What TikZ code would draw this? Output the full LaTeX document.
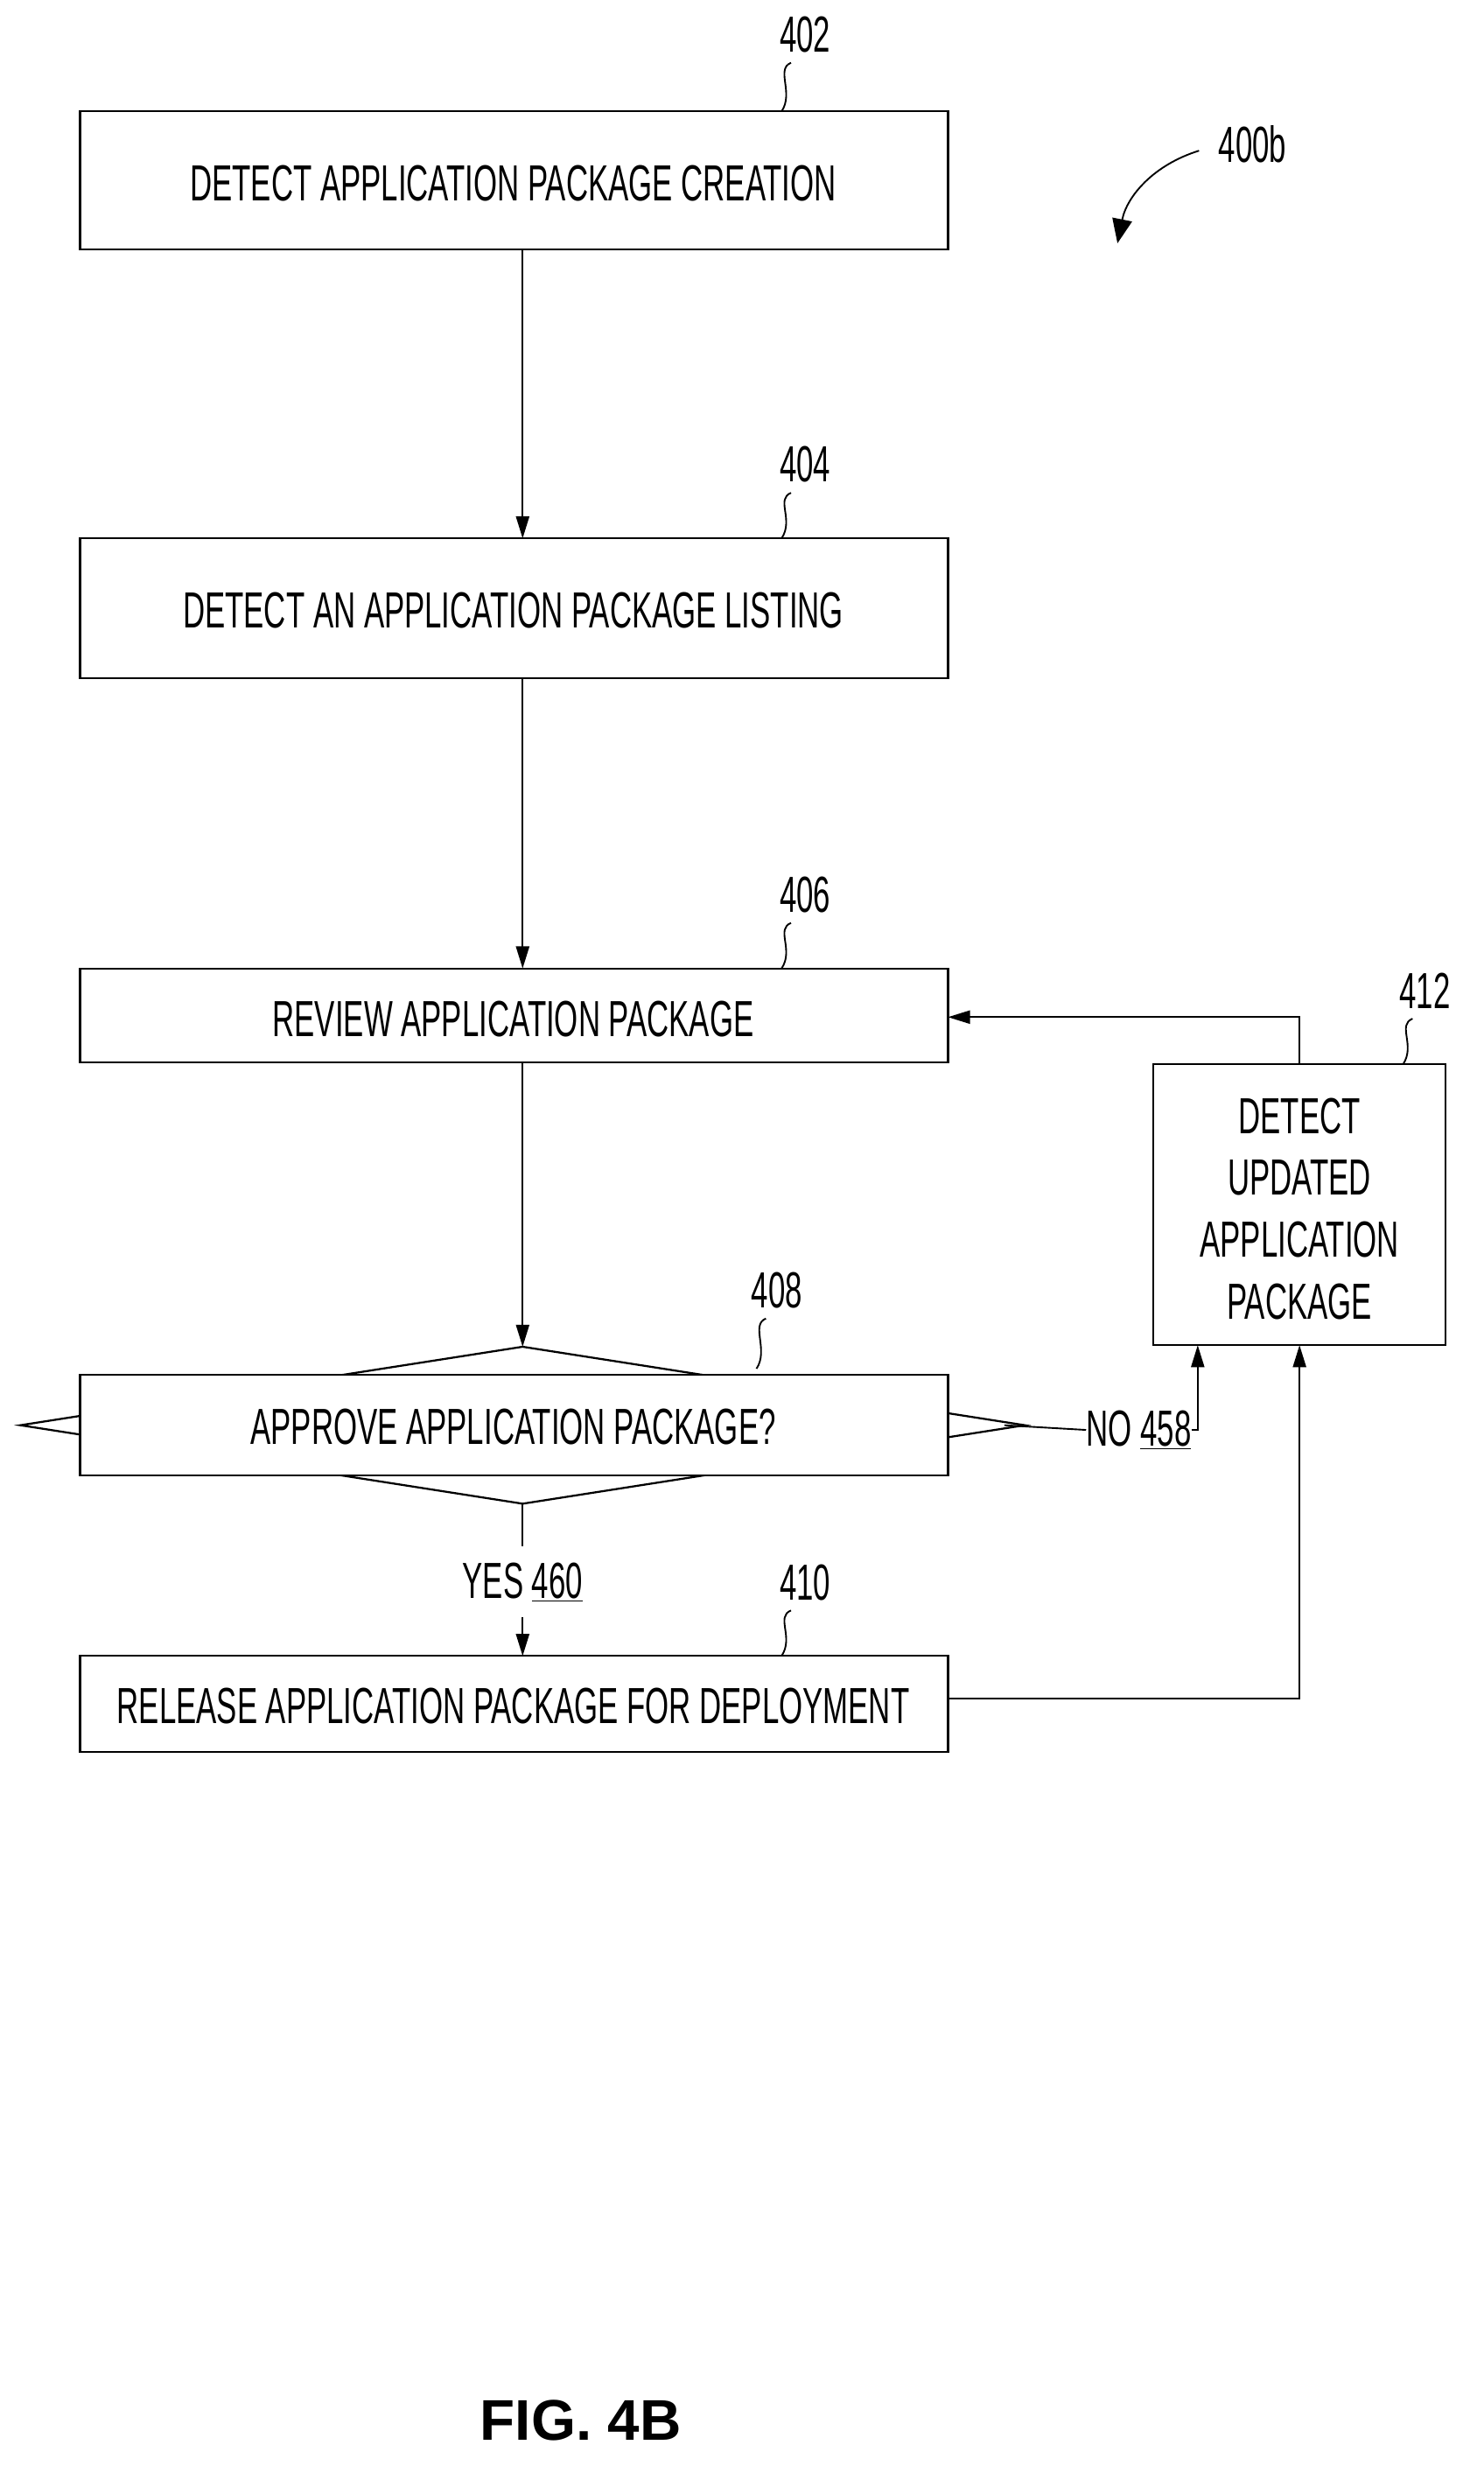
\documentclass[tikz,border=0pt]{standalone}
\usepackage{fontspec}
\setmainfont[FakeStretch=0.6]{Liberation Sans}
\newfontfamily\figfont{Liberation Sans}
\usetikzlibrary{arrows.meta}
\begin{document}
\begin{tikzpicture}[x=0.05cm,y=-0.05cm,
  box/.style={draw,line width=1.8pt,fill=white},
  txt/.style={font=\fontsize{46}{52}\selectfont,align=center,inner sep=0},
  lbl/.style={font=\fontsize{46}{52}\selectfont,inner sep=0},
  arr/.style={line width=1.5pt,-{Triangle[length=20pt,width=12pt]}},
  ln/.style={line width=1.5pt}]
\useasboundingbox (0,0) rectangle (945,1580);
% boxes
\draw[box] (51,71) rectangle (604,159);
\node[txt] (t402) at (327,117) {DETECT APPLICATION PACKAGE CREATION};
\coordinate (b402) at (333,159);
\draw[box] (51,343) rectangle (604,432);
\node[txt] (t404) at (327,389) {DETECT AN APPLICATION PACKAGE LISTING};
\coordinate (a404) at (333,343); \coordinate (b404) at (333,432);
\draw[box] (51,617) rectangle (604,677);
\node[txt] (t406) at (327,649) {REVIEW APPLICATION PACKAGE};
\coordinate (a406) at (333,617); \coordinate (b406) at (333,677); \coordinate (r406) at (604,648);
% diamond
\draw[box] (333,858) -- (653,908) -- (333,958) -- (13,908) -- cycle;
\draw[box] (51,876) rectangle (604,940);
\node[txt] (t408) at (327,909) {APPROVE APPLICATION PACKAGE?};
\coordinate (a408) at (333,858); \coordinate (b408) at (333,958); \coordinate (r408) at (640,908);
\draw[box] (51,1055) rectangle (604,1116);
\node[txt] (t410) at (327,1087) {RELEASE APPLICATION PACKAGE FOR DEPLOYMENT};
\coordinate (a410) at (333,1055); \coordinate (r410) at (604,1082);
\draw[box] (735,678) rectangle (921,857);
\node[txt] (t412) at (828,770) {DETECT\\[4pt]UPDATED\\[4pt]APPLICATION\\[4pt]PACKAGE};
\coordinate (t412a) at (828,678); \coordinate (b412a) at (776,857); \coordinate (b412b) at (828,857);
% connectors
\draw[arr] (b402) -- (a404);
\draw[arr] (b404) -- (a406);
\draw[arr] (b406) -- (a408);
\draw[arr] (t412a) -- (828,648) -- (r406);
\node[lbl] (yes) at (333,1008) {YES \underline{460}};
\draw[ln] (b408) -- (333,985);
\draw[arr] (333,1030) -- (a410);
\node[lbl,anchor=west] (no) at (692,911) {NO \underline{458}};
\draw[ln] (r408) -- (no.west);
\draw[arr] (no.east) -- ++(4,0) coordinate (nc) -- (b412a -| nc);
\draw[arr] (r410) -- (828,1082) -- (b412b);
% reference labels
\node[lbl] (n402) at (513,22) {402};
\node[lbl] (n404) at (513,296) {404};
\node[lbl] (n406) at (513,570) {406};
\node[lbl] (n408) at (495,822) {408};
\node[lbl] (n410) at (513,1008) {410};
\node[lbl] (n412) at (908,631) {412};
\node[lbl] (n400) at (798,92) {400b};
\foreach \x/\ya/\yb in {500/40/71, 500/314/343, 500/588/617, 484/840/872, 500/1026/1055, 896/649/678}{
  \draw[ln] (\x+4,\ya) .. controls (\x-6,\ya+4) and (\x+6,\yb-12) .. (\x-2,\yb);
}
\draw[line width=1.5pt,-{Triangle[length=22pt,width=18pt]}] (764,96) .. controls (735,105) and (718,125) .. (712,155);
\node[font=\figfont\bfseries\fontsize{52}{60}\selectfont,inner sep=0] (fig) at (370,1542) {FIG. 4B};
\end{tikzpicture}
\end{document}
